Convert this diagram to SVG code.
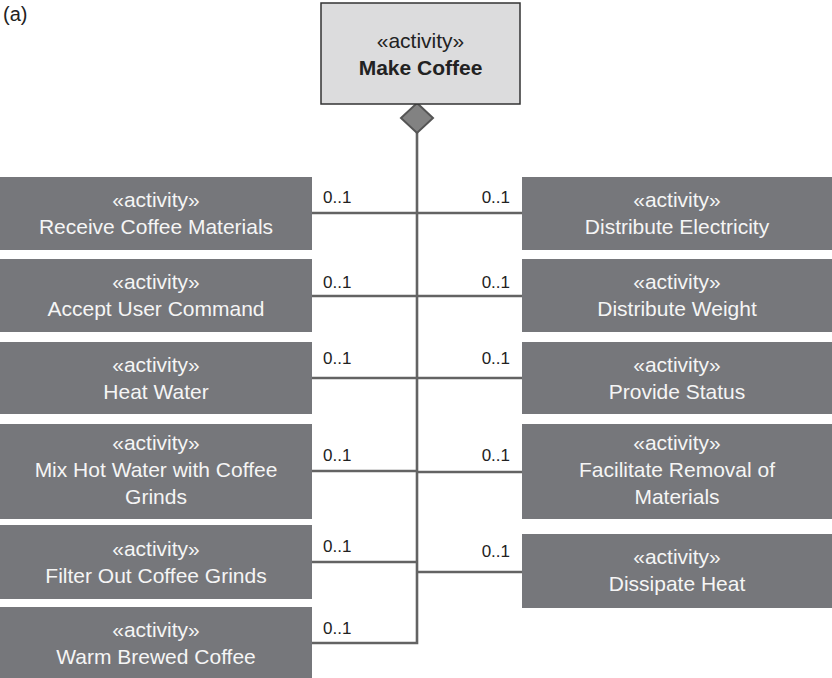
<svg xmlns="http://www.w3.org/2000/svg" width="832" height="678" viewBox="0 0 832 678">
<style>
.box{fill:#76777b}
.bt{font-family:"Liberation Sans",Arial,sans-serif;font-size:21px;fill:#f5f5f5;text-anchor:middle}
.mt{font-family:"Liberation Sans",Arial,sans-serif;font-size:21px;fill:#222;text-anchor:middle}
.lbl{font-family:"Liberation Sans",Arial,sans-serif;font-size:17px;fill:#222}
.c{stroke:#636363;stroke-width:2.6;fill:none}
</style>
<rect width="832" height="678" fill="#fff"/>
<text x="3" y="21" class="lbl" style="font-size:20px">(a)</text>
<g id="connectors">
<path class="c" d="M417,131 V643 H312"/>
<path class="c" d="M312,213 H417 M312,296 H417 M312,378 H417 M312,471 H417 M312,562 H417"/>
<path class="c" d="M417,213 H522 M417,296 H522 M417,378 H522 M417,472 H522 M417,572 H522"/>
<polygon points="417,103 433,118 417,133 401,118" fill="#828282" stroke="#555" stroke-width="2"/>
<text class="lbl" x="323" y="203">0..1</text>
<text class="lbl" x="323" y="288">0..1</text>
<text class="lbl" x="323" y="364">0..1</text>
<text class="lbl" x="323" y="461">0..1</text>
<text class="lbl" x="323" y="552">0..1</text>
<text class="lbl" x="323" y="634">0..1</text>
<text class="lbl" x="510" y="203" text-anchor="end">0..1</text>
<text class="lbl" x="510" y="288" text-anchor="end">0..1</text>
<text class="lbl" x="510" y="364" text-anchor="end">0..1</text>
<text class="lbl" x="510" y="461" text-anchor="end">0..1</text>
<text class="lbl" x="510" y="557" text-anchor="end">0..1</text>
</g>
<g id="make-coffee">
<rect x="321" y="3" width="199" height="101" fill="#dcdcdd" stroke="#333" stroke-width="1.5"/>
<text class="mt" x="420.5" y="48">«activity»</text>
<text class="mt" x="420.5" y="75" font-weight="bold">Make Coffee</text>
</g>
<g id="receive-coffee-materials">
<rect class="box" x="0" y="177" width="312" height="73"/>
<text class="bt" x="156" y="207">«activity»</text>
<text class="bt" x="156" y="234">Receive Coffee Materials</text>
</g>
<g id="accept-user-command">
<rect class="box" x="0" y="259" width="312" height="73"/>
<text class="bt" x="156" y="289">«activity»</text>
<text class="bt" x="156" y="316">Accept User Command</text>
</g>
<g id="heat-water">
<rect class="box" x="0" y="342" width="312" height="72"/>
<text class="bt" x="156" y="372">«activity»</text>
<text class="bt" x="156" y="399">Heat Water</text>
</g>
<g id="mix-hot-water">
<rect class="box" x="0" y="424" width="312" height="95"/>
<text class="bt" x="156" y="450">«activity»</text>
<text class="bt" x="156" y="477">Mix Hot Water with Coffee</text>
<text class="bt" x="156" y="504">Grinds</text>
</g>
<g id="filter-out-coffee-grinds">
<rect class="box" x="0" y="525" width="312" height="74"/>
<text class="bt" x="156" y="556">«activity»</text>
<text class="bt" x="156" y="583">Filter Out Coffee Grinds</text>
</g>
<g id="warm-brewed-coffee">
<rect class="box" x="0" y="607" width="312" height="71"/>
<text class="bt" x="156" y="637">«activity»</text>
<text class="bt" x="156" y="664">Warm Brewed Coffee</text>
</g>
<g id="distribute-electricity">
<rect class="box" x="522" y="177" width="310" height="73"/>
<text class="bt" x="677" y="207">«activity»</text>
<text class="bt" x="677" y="234">Distribute Electricity</text>
</g>
<g id="distribute-weight">
<rect class="box" x="522" y="259" width="310" height="73"/>
<text class="bt" x="677" y="289">«activity»</text>
<text class="bt" x="677" y="316">Distribute Weight</text>
</g>
<g id="provide-status">
<rect class="box" x="522" y="342" width="310" height="72"/>
<text class="bt" x="677" y="372">«activity»</text>
<text class="bt" x="677" y="399">Provide Status</text>
</g>
<g id="facilitate-removal">
<rect class="box" x="522" y="424" width="310" height="95"/>
<text class="bt" x="677" y="450">«activity»</text>
<text class="bt" x="677" y="477">Facilitate Removal of</text>
<text class="bt" x="677" y="504">Materials</text>
</g>
<g id="dissipate-heat">
<rect class="box" x="522" y="534" width="310" height="74"/>
<text class="bt" x="677" y="564">«activity»</text>
<text class="bt" x="677" y="591">Dissipate Heat</text>
</g>
</svg>
